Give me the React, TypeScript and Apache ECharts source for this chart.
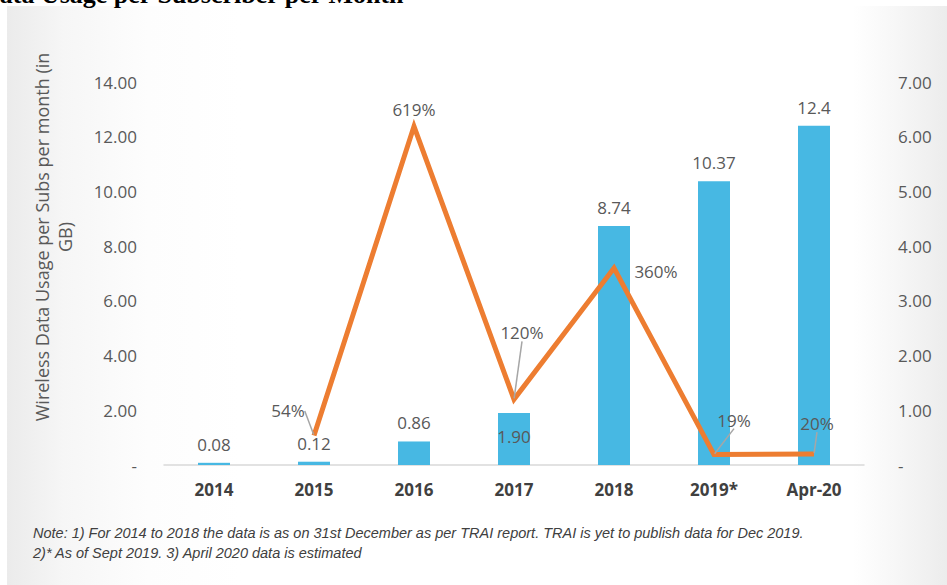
import React, { useEffect, useRef } from "react";
import * as echarts from "echarts";

const categories = ["2014", "2015", "2016", "2017", "2018", "2019*", "Apr-20"];
const usageGB = [0.08, 0.12, 0.86, 1.9, 8.74, 10.37, 12.4];
const usageLabels = ["0.08", "0.12", "0.86", "1.90", "8.74", "10.37", "12.4"];
// growth rate on the right axis (1.00 = 100%)
const growth: (number | string)[] = ["-", 0.54, 6.19, 1.2, 3.6, 0.19, 0.2];
const growthLabels = ["", "54%", "619%", "120%", "360%", "19%", "20%"];
const leftMax = 14;
const leftInterval = 2;
const rightMax = 7;
const rightInterval = 1;

const titleText = "Data Usage per Subscriber per Month";
const yAxisTitle = "Wireless Data Usage per Subs per month (in\nGB)";
const noteLines = [
  "Note: 1) For 2014 to 2018 the data is as on 31st December as per TRAI report. TRAI is yet to publish data for Dec 2019.",
  "2)* As of Sept 2019. 3) April 2020 data is estimated",
];

// label displacement for the growth labels (dx, dy, leader)
const growthLabelShift: Record<number, [number, number, boolean]> = {
  1: [-26, -10, true],
  2: [0, -2, false],
  3: [8, -52, true],
  4: [42, 18, false],
  5: [20, -20, true],
  6: [3, -16, true],
};

const FONT = "'Open Sans', 'Noto Sans', sans-serif";
const GRAY = "#595959";

export default function App() {
  const ref = useRef<HTMLDivElement>(null);
  useEffect(() => {
    if (!ref.current) return;
    const chart = echarts.init(ref.current, null, { renderer: "svg" });
    const fmt = (v: number) => (v === 0 ? "-" : v.toFixed(2));
    chart.setOption({
      animation: false,
      grid: { left: 164, right: 83, top: 82, bottom: 120 },
      xAxis: {
        type: "category",
        data: categories,
        axisLine: { lineStyle: { color: "#d9d9d9", width: 1.5 } },
        axisTick: { show: false },
        axisLabel: {
          color: "#404040",
          fontFamily: FONT,
          fontSize: 17,
          fontWeight: "bold",
          margin: 16,
        },
      },
      yAxis: [
        {
          type: "value",
          min: 0,
          max: leftMax,
          interval: leftInterval,
          axisLine: { show: false },
          axisTick: { show: false },
          splitLine: { show: false },
          axisLabel: { color: GRAY, fontFamily: FONT, fontSize: 17, margin: 27, formatter: fmt },
        },
        {
          type: "value",
          min: 0,
          max: rightMax,
          interval: rightInterval,
          axisLine: { show: false },
          axisTick: { show: false },
          splitLine: { show: false },
          axisLabel: { color: GRAY, fontFamily: FONT, fontSize: 17, margin: 34, formatter: fmt },
        },
      ],
      series: [
        {
          type: "bar",
          yAxisIndex: 0,
          barWidth: 32,
          itemStyle: { color: "#47b8e3" },
          data: usageGB.map((v, i) =>
            i === 3
              ? { value: v, label: { position: "inside", offset: [0, -3] } }
              : { value: v }
          ),
          label: {
            show: true,
            position: "top",
            distance: 10,
            color: GRAY,
            fontFamily: FONT,
            fontSize: 17,
            formatter: (p: any) => usageLabels[p.dataIndex],
          },
        },
        {
          type: "line",
          yAxisIndex: 1,
          data: growth.map((v, i) => {
            const s = growthLabelShift[i];
            return s && !s[2] ? { value: v, labelLine: { show: false } } : { value: v };
          }),
          symbol: "circle",
          showSymbol: true,
          symbolSize: 2,
          itemStyle: { color: "rgba(0,0,0,0)", borderWidth: 0 },
          lineStyle: { color: "#ed7d31", width: 5, join: "miter" },
          label: {
            show: true,
            position: "top",
            distance: 5,
            color: GRAY,
            fontFamily: FONT,
            fontSize: 17,
            formatter: (p: any) => growthLabels[p.dataIndex],
          },
          labelLine: { show: true, lineStyle: { color: "#a6a6a6", width: 1.5 } },
          labelLayout: (p: any) => {
            const s = growthLabelShift[p.dataIndex];
            return s ? { dx: s[0], dy: s[1] } : {};
          },
          z: 3,
        },
      ],
      graphic: [
        {
          type: "text",
          x: -19,
          y: -6,
          style: {
            text: titleText,
            font: "bold 26px 'Liberation Serif', serif",
            fill: "#000",
            verticalAlign: "middle",
          },
        },
        {
          type: "text",
          x: 53,
          y: 237,
          rotation: Math.PI / 2,
          style: {
            text: yAxisTitle,
            fontFamily: FONT,
            fontSize: 18,
            lineHeight: 23,
            fill: GRAY,
            align: "center",
            verticalAlign: "middle",
          },
        },
        ...noteLines.map((t, i) => ({
          type: "text",
          x: 33,
          y: 533 + i * 20,
          style: {
            text: t,
            fontFamily: "'Liberation Sans Narrow', 'Liberation Sans', Arial, sans-serif",
            fontStyle: "italic",
            fontSize: 14.5,
            fill: "#404040",
            verticalAlign: "middle",
          },
        })),
      ],
    });
    return () => chart.dispose();
  }, []);

  return (
    <div style={{ position: "fixed", left: 0, top: 0, width: 947, height: 585, background: "#fff" }}>
      <div
        style={{
          position: "absolute",
          left: 7,
          top: 6,
          right: 0,
          bottom: 0,
          background:
            "linear-gradient(to right, #ebebeb 0%, #f6f6f6 6%, #fdfdfd 15%, #ffffff 25%, #ffffff 90%, #f6f6f6 95%, #ececec 100%)",
        }}
      />
      <div ref={ref} style={{ position: "absolute", left: 0, top: 0, width: 947, height: 585 }} />
    </div>
  );
}
